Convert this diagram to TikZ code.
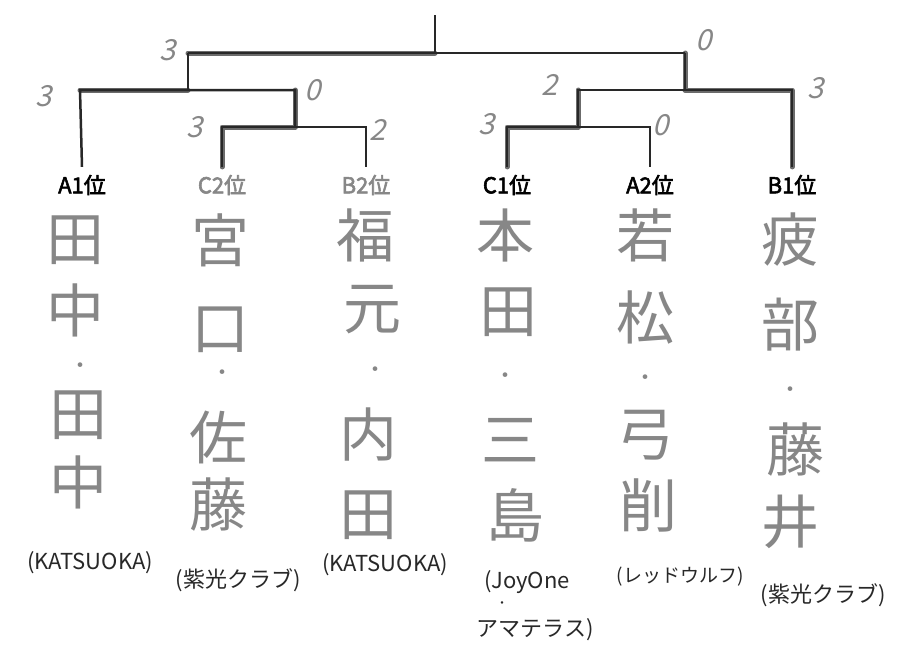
\documentclass[tikz,border=0pt]{standalone}
\usepackage{fontspec}
\newfontfamily\jp{Noto Sans CJK JP}
\newfontfamily\jpb[AutoFakeBold=2.5]{Noto Sans CJK JP}
\newfontfamily\jpsl[FakeSlant=0.25]{Noto Sans CJK JP}
\definecolor{hand}{RGB}{135,135,135}
\definecolor{ink}{RGB}{40,40,40}
\begin{document}
\begin{tikzpicture}[x=1pt,y=-1pt,
  br/.style={line width=2.5pt, ink},
  win/.style={line width=5pt, black!58, line cap=round, line join=round},
  seed/.style={font=\jpb\bfseries\fontsize{22}{22}\selectfont, inner xsep=0pt, inner ysep=8pt, outer sep=0pt},
  kanji/.style={font=\jp\fontsize{58}{58}\selectfont, text=hand, inner sep=0pt},
  kdot/.style={font=\jp\fontsize{22}{22}\selectfont, text=hand, inner sep=0pt},
  score/.style={font=\jpsl\fontsize{29}{29}\selectfont, text=hand, inner sep=0pt},
  team/.style={font=\jp\fontsize{22}{22}\selectfont, text=ink, inner sep=0pt}]
\useasboundingbox[fill=white] (0,0) rectangle (906,654);

% bracket joints
\coordinate (top) at (435,15);
\coordinate (root) at (435,53);
\coordinate (L) at (188,53);
\coordinate (R) at (685,53);
\coordinate (Lb) at (188,90);
\coordinate (Rb) at (685,90);
\coordinate (A1t) at (80,90);
\coordinate (M1) at (295,90);
\coordinate (M1b) at (295,127);
\coordinate (C2t) at (222,127);
\coordinate (B2t) at (366,127);
\coordinate (B1t) at (792,90);
\coordinate (M2) at (578,90);
\coordinate (M2b) at (578,127);
\coordinate (C1t) at (507,127);
\coordinate (A2t) at (650,127);

% seed labels
\node[seed] (A1) at (82,185) {A1位};
\node[seed, text=hand] (C2) at (222,185) {C2位};
\node[seed, text=hand] (B2) at (366,185) {B2位};
\node[seed] (C1) at (507,185) {C1位};
\node[seed] (A2) at (650,185) {A2位};
\node[seed] (B1) at (792,185) {B1位};

% winning (heavier) strokes
\draw[win] (root) -- (L);
\draw[win] (A1t) -- (Lb);
\draw[win] (C2.north) -- (C2t) -- (M1b) -- (M1);
\draw[win] (Rb) -- (B1t) -- (B1.north);
\draw[win] (C1.north) -- (C1t) -- (M2b) -- (M2);
\draw[win] (R) -- (Rb);

% bracket lines
\draw[br] (top) -- (root);
\draw[br] (L) -- (R);
\draw[br] (L) -- (Lb);
\draw[br] (R) -- (Rb);
\draw[br] (A1.north) -- (A1t) -- (M1) -- (M1b);
\draw[br] (C2.north) -- (C2t) -- (B2t) -- (B2.north);
\draw[br] (B1.north) -- (B1t) -- (M2) -- (M2b);
\draw[br] (C1.north) -- (C1t) -- (A2t) -- (A2.north);

% scores
\node[score] (s1) at (168,50) {3};
\node[score] (s2) at (704,40) {0};
\node[score] (s3) at (44,96) {3};
\node[score] (s4) at (313,90) {0};
\node[score] (s5) at (195,127) {3};
\node[score] (s6) at (378,130) {2};
\node[score] (s7) at (550,85) {2};
\node[score] (s8) at (816,88) {3};
\node[score] (s9) at (487,124) {3};
\node[score] (s10) at (661,125) {0};

% column 1
\node[kanji] (a1) at (75,240) {田};
\node[kanji] (a2) at (75,310) {中};
\node[kdot]  (a3) at (80,368) {・};
\node[kanji] (a4) at (78,415) {田};
\node[kanji] (a5) at (78,482) {中};
% column 2
\node[kanji] (b1) at (220,240) {宮};
\node[kanji] (b2) at (220,330) {口};
\node[kdot]  (b3) at (222,375) {・};
\node[kanji] (b4) at (218,437) {佐};
\node[kanji] (b5) at (218,505) {藤};
% column 3
\node[kanji] (c1) at (365,235) {福};
\node[kanji] (c2) at (372,310) {元};
\node[kdot]  (c3) at (375,372) {・};
\node[kanji] (c4) at (368,435) {内};
\node[kanji] (c5) at (368,515) {田};
% column 4
\node[kanji] (d1) at (505,235) {本};
\node[kanji] (d2) at (508,312) {田};
\node[kdot]  (d3) at (505,378) {・};
\node[kanji] (d4) at (510,440) {三};
\node[kanji] (d5) at (515,515) {島};
% column 5
\node[kanji] (e1) at (645,235) {若};
\node[kanji] (e2) at (645,318) {松};
\node[kdot]  (e3) at (645,380) {・};
\node[kanji] (e4) at (645,435) {弓};
\node[kanji] (e5) at (648,505) {削};
% column 6
\node[kanji] (f1) at (790,240) {疲};
\node[kanji] (f2) at (790,325) {部};
\node[kdot]  (f3) at (790,392) {・};
\node[kanji] (f4) at (795,450) {藤};
\node[kanji] (f5) at (790,522) {井};

% teams
\node[team] (t1) at (90,563) {(KATSUOKA)};
\node[team] (t2) at (238,580) {(紫光クラブ)};
\node[team] (t3) at (385,565) {(KATSUOKA)};
\node[team] (t4a) at (527,582) {(JoyOne};
\node[team, font=\jp\fontsize{12}{12}\selectfont] (t4b) at (502,605) {・};
\node[team] (t4c) at (535,630) {アマテラス)};
\node[team, font=\jp\fontsize{19}{19}\selectfont] (t5) at (680,577) {(レッドウルフ)};
\node[team] (t6) at (823,595) {(紫光クラブ)};
\end{tikzpicture}
\end{document}
